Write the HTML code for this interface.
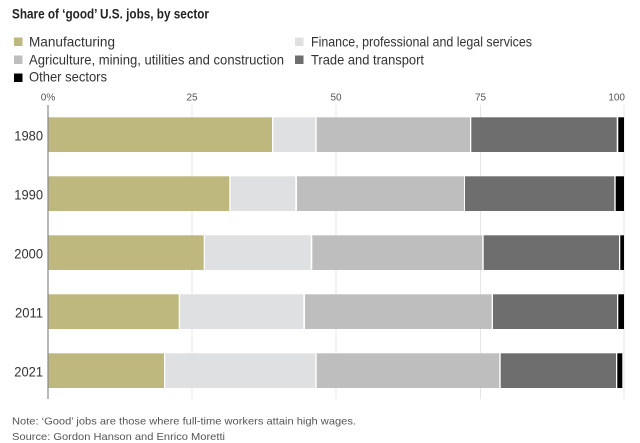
<!DOCTYPE html>
<html><head><meta charset="utf-8"><style>
html,body{margin:0;padding:0;background:#fff;}
svg{display:block;}
text{font-family:"Liberation Sans",sans-serif;}
</style></head><body>
<svg width="640" height="443" viewBox="0 0 640 443" xmlns="http://www.w3.org/2000/svg">
<rect width="640" height="443" fill="#fff"/>
<text x="12" y="18.3" font-size="13.5" font-weight="bold" fill="#222" textLength="197" lengthAdjust="spacingAndGlyphs">Share of ‘good’ U.S. jobs, by sector</text>

<rect x="14" y="37.5" width="8.5" height="8.5" fill="#bfb87e"/>
<text x="29" y="46.7" font-size="14" fill="#333" textLength="86" lengthAdjust="spacingAndGlyphs">Manufacturing</text>
<rect x="14" y="55.5" width="8.5" height="8.5" fill="#bebebe"/>
<text x="29" y="64.3" font-size="14" fill="#333" textLength="255" lengthAdjust="spacingAndGlyphs">Agriculture, mining, utilities and construction</text>
<rect x="14" y="73.5" width="8.5" height="8.5" fill="#000"/>
<text x="29" y="81.7" font-size="14" fill="#333" textLength="78" lengthAdjust="spacingAndGlyphs">Other sectors</text>
<rect x="295" y="37.5" width="8.5" height="8.5" fill="#dfe0e2"/>
<text x="311" y="46.7" font-size="14" fill="#333" textLength="221" lengthAdjust="spacingAndGlyphs">Finance, professional and legal services</text>
<rect x="295" y="55.5" width="8.5" height="8.5" fill="#6e6e6e"/>
<text x="311" y="64.3" font-size="14" fill="#333" textLength="113" lengthAdjust="spacingAndGlyphs">Trade and transport</text>

<g font-size="10" fill="#555">
<text x="48" y="100.7" text-anchor="middle">0%</text>
<text x="192" y="100.7" text-anchor="middle">25</text>
<text x="336" y="100.7" text-anchor="middle">50</text>
<text x="480.5" y="100.7" text-anchor="middle">75</text>
<text x="625" y="100.7" text-anchor="end">100</text>
</g>

<g stroke="#e6e6e6" stroke-width="1">
<line x1="192" y1="105" x2="192" y2="399"/>
<line x1="336" y1="105" x2="336" y2="399"/>
<line x1="480.5" y1="105" x2="480.5" y2="399"/>
<line x1="624" y1="105" x2="624" y2="399"/>
</g>

<g>
<rect x="48" y="117.3" width="224" height="34.7" fill="#bfb87e"/>
<rect x="273.3" y="117.3" width="42" height="34.7" fill="#dfe0e2"/>
<rect x="316.7" y="117.3" width="153.3" height="34.7" fill="#bebebe"/>
<rect x="471.3" y="117.3" width="145.4" height="34.7" fill="#6e6e6e"/>
<rect x="618.3" y="117.3" width="5.7" height="34.7" fill="#000"/>
</g>
<g>
<rect x="48" y="176.3" width="181.3" height="34.7" fill="#bfb87e"/>
<rect x="230.6" y="176.3" width="64.7" height="34.7" fill="#dfe0e2"/>
<rect x="297" y="176.3" width="167" height="34.7" fill="#bebebe"/>
<rect x="465" y="176.3" width="149.3" height="34.7" fill="#6e6e6e"/>
<rect x="615.7" y="176.3" width="8.3" height="34.7" fill="#000"/>
</g>
<g>
<rect x="48" y="235.3" width="155.7" height="34.7" fill="#bfb87e"/>
<rect x="205" y="235.3" width="105.7" height="34.7" fill="#dfe0e2"/>
<rect x="312.3" y="235.3" width="170" height="34.7" fill="#bebebe"/>
<rect x="483.7" y="235.3" width="135.3" height="34.7" fill="#6e6e6e"/>
<rect x="620.3" y="235.3" width="3.7" height="34.7" fill="#000"/>
</g>
<g>
<rect x="48" y="294.3" width="130.7" height="34.7" fill="#bfb87e"/>
<rect x="180" y="294.3" width="123.3" height="34.7" fill="#dfe0e2"/>
<rect x="305" y="294.3" width="186.7" height="34.7" fill="#bebebe"/>
<rect x="493" y="294.3" width="124" height="34.7" fill="#6e6e6e"/>
<rect x="618.3" y="294.3" width="5.7" height="34.7" fill="#000"/>
</g>
<g>
<rect x="48" y="353.3" width="116" height="34.7" fill="#bfb87e"/>
<rect x="165.3" y="353.3" width="150" height="34.7" fill="#dfe0e2"/>
<rect x="316.7" y="353.3" width="182.6" height="34.7" fill="#bebebe"/>
<rect x="500.7" y="353.3" width="115.3" height="34.7" fill="#6e6e6e"/>
<rect x="617.3" y="353.3" width="5" height="34.7" fill="#000"/>
</g>

<line x1="48" y1="105" x2="48" y2="399" stroke="#888" stroke-width="1.2"/>

<g font-size="14" fill="#333">
<text x="14.3" y="140.7" textLength="28.7" lengthAdjust="spacingAndGlyphs">1980</text>
<text x="14.3" y="199.7" textLength="28.7" lengthAdjust="spacingAndGlyphs">1990</text>
<text x="14.3" y="258.7" textLength="28.7" lengthAdjust="spacingAndGlyphs">2000</text>
<text x="15" y="317.7" textLength="28" lengthAdjust="spacingAndGlyphs">2011</text>
<text x="14.3" y="376.7" textLength="28.7" lengthAdjust="spacingAndGlyphs">2021</text>
</g>

<text x="12" y="424.5" font-size="10.5" fill="#555" textLength="344" lengthAdjust="spacingAndGlyphs">Note: ‘Good’ jobs are those where full-time workers attain high wages.</text>
<text x="12" y="440" font-size="10.5" fill="#555" textLength="213" lengthAdjust="spacingAndGlyphs">Source: Gordon Hanson and Enrico Moretti</text>
</svg>
</body></html>
